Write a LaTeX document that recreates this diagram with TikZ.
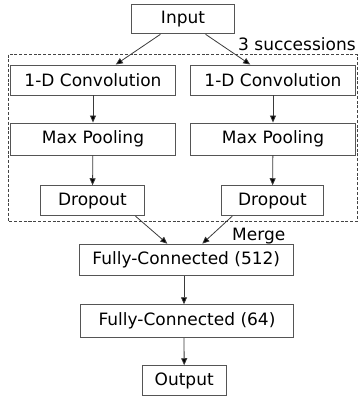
\documentclass[tikz,border=0pt]{standalone}
\usepackage{fontspec}
\setmainfont{DejaVu Sans}
\usetikzlibrary{arrows.meta}
\definecolor{boxline}{HTML}{555555}
\definecolor{arrline}{HTML}{3A3A3A}
\begin{document}
\begin{tikzpicture}[x=1pt,y=-1pt,
  every node/.style={font=\fontsize{17}{20}\selectfont, text=black},
  layer/.style={draw=boxline, line width=0.9pt, inner sep=0pt, minimum height=30pt, fill=white},
  conn/.style={draw=arrline, line width=0.8pt, -{Triangle[length=7pt,width=6pt,fill=black]}},
  label/.style={inner sep=0pt, anchor=base west}
]
\useasboundingbox (0,0) rectangle (358,399);
\draw[boxline!80!black, line width=0.9pt, dash pattern=on 3pt off 1.8pt] (8.3,54.5) rectangle (357,221.5);

\node[layer, minimum width=102.6pt, minimum height=29.7pt] (input) at (183,19) {Input};
\node[layer, minimum width=164.3pt] (convL) at (93,80) {1-D Convolution};
\node[layer, minimum width=164.3pt] (convR) at (273,80) {1-D Convolution};
\node[layer, minimum width=164.3pt, minimum height=32pt] (poolL) at (93,139) {Max Pooling};
\node[layer, minimum width=164.3pt, minimum height=32pt] (poolR) at (273,139) {Max Pooling};
\node[layer, minimum width=103.3pt] (dropL) at (92.4,200.7) {Dropout};
\node[layer, minimum width=101.6pt] (dropR) at (272.5,200.7) {Dropout};
\node[layer, minimum width=214pt, minimum height=31.7pt] (fc1) at (186.3,260) {Fully-Connected (512)};
\node[layer, minimum width=212.6pt, minimum height=33pt] (fc2) at (187,321.2) {Fully-Connected (64)};
\node[layer, minimum width=83.7pt] (out) at (184.2,380.7) {Output};

\node[label] (succ) at (238,50) {3 successions};
\node[label] (merge) at (232,240.5) {Merge};

\draw[conn] (input) -- (convL);
\draw[conn] (input) -- (convR);
\draw[conn] (convL) -- (poolL);
\draw[conn] (convR) -- (poolR);
\draw[conn] (poolL) -- (dropL);
\draw[conn] (poolR) -- (dropR);
\draw[conn] ([xshift=-9pt]dropL.south east) -- ([xshift=-19pt]fc1.north);
\draw[conn] ([xshift=11pt]dropR.south west) -- ([xshift=16pt]fc1.north);
\draw[conn] ([xshift=-2.3pt]fc1.south) -- ([xshift=-3pt]fc2.north);
\draw[conn] ([xshift=-3pt]fc2.south) -- (out.north);
\end{tikzpicture}
\end{document}
